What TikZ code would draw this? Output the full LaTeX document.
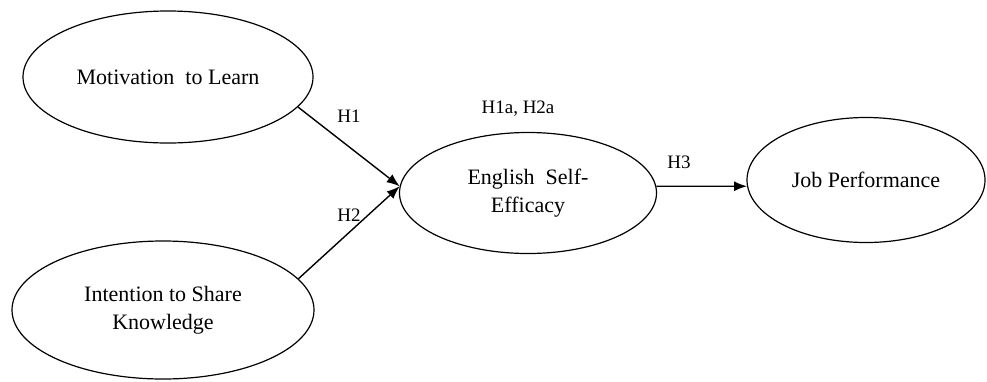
\documentclass[tikz,border=0pt]{standalone}
\usepackage{fontspec}
\setmainfont{Liberation Serif}
\usetikzlibrary{shapes.geometric,arrows.meta}
\begin{document}
\begin{tikzpicture}[x=1pt,y=1pt,
  construct/.style={draw, ellipse, line width=1.2pt, inner sep=0pt, align=center,
    font=\fontsize{22}{28}\selectfont},
  hyp/.style={font=\fontsize{19}{23}\selectfont, inner sep=0pt},
  link/.style={line width=1.4pt, -{Latex[length=13pt,width=10pt]}}]
\useasboundingbox (0,0) rectangle (987,-381);
\node[construct, minimum width=290pt, minimum height=132pt] (e1) at (168,-77) {Motivation~ to Learn};
\node[construct, minimum width=302pt, minimum height=138pt] (e2) at (163,-310) {Intention to Share\\Knowledge};
\node[construct, minimum width=257pt, minimum height=121pt] (e3) at (528,-193) {English~ Self-\\Efficacy};
\node[construct, minimum width=238pt, minimum height=125pt] (e4) at (866,-180) {Job Performance};
\draw[link] (e1.-13) -- (e3.177);
\draw[link] (e2.13) -- (e3.177);
\draw[link] (e3.3) -- (e4.183.4);
\node[hyp] (h1) at (349,-116) {H1};
\node[hyp] (h2) at (349,-215) {H2};
\node[hyp] (h12a) at (518,-109) {H1a, H2a};
\node[hyp] (h3) at (679,-162) {H3};
\end{tikzpicture}
\end{document}
